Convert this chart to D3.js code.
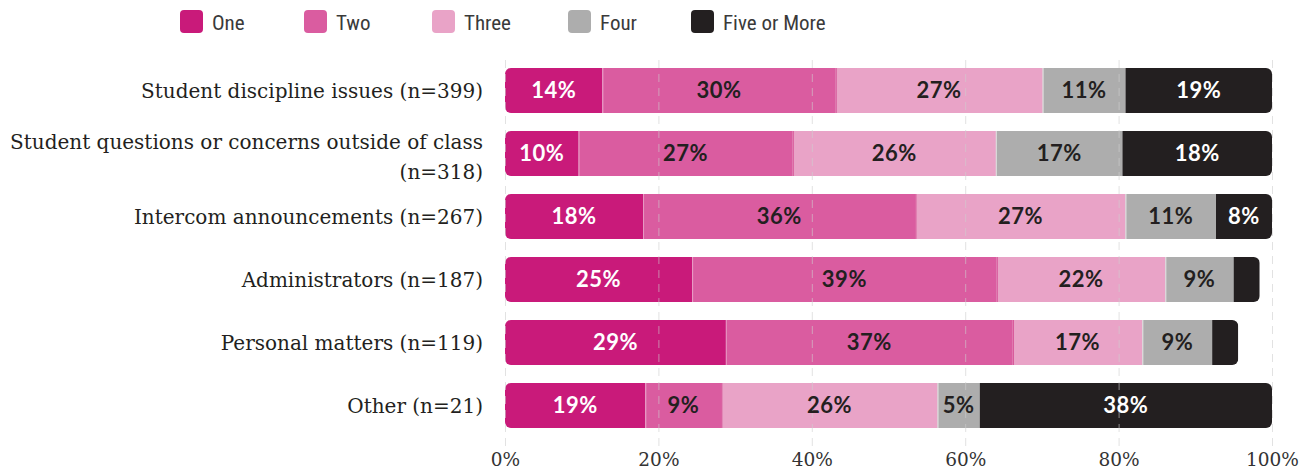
<!DOCTYPE html>
<html>
<head>
<meta charset="utf-8">
<script src="https://cdn.jsdelivr.net/npm/d3@7"></script>
<style>
  body { margin: 0; background: #fff; }
</style>
</head>
<body>
<script>
// categories (row labels, top to bottom)
const categories = [
  "Student discipline issues (n=399)",
  "Student questions or concerns outside of class (n=318)",
  "Intercom announcements (n=267)",
  "Administrators (n=187)",
  "Personal matters (n=119)",
  "Other (n=21)"
];
// two-line labels where the original wraps
const categoryLines = [
  ["Student discipline issues (n=399)"],
  ["Student questions or concerns outside of class", "(n=318)"],
  ["Intercom announcements (n=267)"],
  ["Administrators (n=187)"],
  ["Personal matters (n=119)"],
  ["Other (n=21)"]
];

// series keys + legend names
const keys = ["one", "two", "three", "four", "five"];
const legendNames = ["One", "Two", "Three", "Four", "Five or More"];

// segment widths (% of respondents)
const one   = [12.7,  9.6, 18.0, 24.4, 28.8, 18.3];
const two   = [30.4, 27.9, 35.5, 39.7, 37.4,  9.9];
const three = [27.0, 26.5, 27.4, 22.0, 16.9, 28.2];
const four  = [10.8, 16.5, 11.8,  8.9,  9.1,  5.5];
const five  = [19.1, 19.5,  7.3,  3.4,  3.4, 38.1];

// printed labels inside the segments
const oneLabels   = ["14%", "10%", "18%", "25%", "29%", "19%"];
const twoLabels   = ["30%", "27%", "36%", "39%", "37%", "9%"];
const threeLabels = ["27%", "26%", "27%", "22%", "17%", "26%"];
const fourLabels  = ["11%", "17%", "11%", "9%", "9%", "5%"];
const fiveLabels  = ["19%", "18%", "8%", "", "", "38%"];

const xTicks = [0, 20, 40, 60, 80, 100];

const values = { one, two, three, four, five };
const labels = { one: oneLabels, two: twoLabels, three: threeLabels, four: fourLabels, five: fiveLabels };

const colors = {
  one: "#c91a7a",
  two: "#da5ca0",
  three: "#e9a3c7",
  four: "#adadad",
  five: "#231f20"
};
const textColors = { one: "#fff", two: "#231f20", three: "#231f20", four: "#231f20", five: "#fff" };

// table for d3.stack
const table = categories.map((c, i) => {
  const row = { category: c, idx: i };
  keys.forEach(k => { row[k] = values[k][i]; });
  return row;
});

const width = 1310, height = 471;

const svg = d3.select("body")
  .append("svg")
  .attr("width", width)
  .attr("height", height);

const x = d3.scaleLinear().domain([0, 100]).range([505, 1272]);
const y = d3.scaleBand().domain(categories).range([59, 437]).paddingInner(0.286).paddingOuter(0.143);

const stacked = d3.stack().keys(keys)(table);

// rounded clip per row
const defs = svg.append("defs");
table.forEach(d => {
  const total = d3.sum(keys, k => d[k]);
  defs.append("clipPath")
    .attr("id", "clip" + d.idx)
    .append("rect")
    .attr("x", x(0))
    .attr("y", y(d.category))
    .attr("width", x(total) - x(0))
    .attr("height", y.bandwidth())
    .attr("rx", 6);
});

// bars
const layer = svg.append("g").selectAll("g")
  .data(stacked)
  .join("g")
  .attr("fill", s => colors[s.key]);

layer.selectAll("rect")
  .data(s => s.map(p => ({ key: s.key, p })))
  .join("rect")
  .attr("clip-path", d => `url(#clip${d.p.data.idx})`)
  .attr("x", d => x(d.p[0]))
  .attr("y", d => y(d.p.data.category))
  .attr("width", d => x(d.p[1]) - x(d.p[0]))
  .attr("height", y.bandwidth());

// thin separators between segments
const sepColors = { two: "rgba(255,255,255,0.35)", three: "#d2448f", four: "rgba(255,255,255,0.6)" };
stacked.filter(s => sepColors[s.key]).forEach(s => {
  svg.append("g").selectAll("line")
    .data(s)
    .join("line")
    .attr("x1", p => x(p[0]) + 0.5)
    .attr("x2", p => x(p[0]) + 0.5)
    .attr("y1", p => y(p.data.category))
    .attr("y2", p => y(p.data.category) + y.bandwidth())
    .attr("stroke", sepColors[s.key])
    .attr("stroke-width", 1);
});

// dashed gridlines drawn faintly over the bars
svg.append("g")
  .selectAll("line")
  .data(xTicks)
  .join("line")
  .attr("x1", d => x(d) + 0.5)
  .attr("x2", d => x(d) + 0.5)
  .attr("y1", 60)
  .attr("y2", 446)
  .attr("stroke", "#cfcfcf")
  .attr("stroke-opacity", 0.6)
  .attr("stroke-dasharray", "8,6");

// segment labels
stacked.forEach(s => {
  svg.append("g").selectAll("text")
    .data(s)
    .join("text")
    .attr("x", p => (x(p[0]) + x(p[1])) / 2)
    .attr("y", p => y(p.data.category) + y.bandwidth() / 2)
    .attr("dy", "0.36em")
    .attr("text-anchor", "middle")
    .attr("fill", textColors[s.key])
    .style("font-family", "Lato, 'Noto Sans', sans-serif")
    .style("font-weight", 700)
    .style("font-size", "22px")
    .style("letter-spacing", "0.5px")
    .text(p => labels[s.key][p.data.idx]);
});

// category labels
const catG = svg.append("g")
  .style("font-family", "'DejaVu Serif', serif")
  .style("font-size", "20px")
  .attr("fill", "#231f20");

categoryLines.forEach((lines, i) => {
  const cy = y(categories[i]) + y.bandwidth() / 2;
  const lh = 30;
  const shift = lines.length > 1 ? 3 : 0;
  const t = catG.append("text")
    .attr("text-anchor", "end")
    .attr("x", 483)
    .attr("y", cy - (lines.length - 1) * lh / 2 + shift);
  lines.forEach((ln, j) => {
    t.append("tspan")
      .attr("x", 483)
      .attr("dy", j === 0 ? "0.35em" : lh)
      .text(ln);
  });
});

// x axis labels
const xAxis = d3.axisBottom(x)
  .tickValues(xTicks)
  .tickFormat(d => d + "%")
  .tickSize(0)
  .tickPadding(0);

const ax = svg.append("g")
  .attr("transform", "translate(0,453)")
  .call(xAxis);
ax.select(".domain").remove();
ax.selectAll("text")
  .style("font-family", "'DejaVu Serif', serif")
  .style("font-size", "18.5px")
  .attr("fill", "#333");

// legend
const legendX = [180, 304, 432, 568, 691];
const legend = svg.append("g").selectAll("g")
  .data(keys)
  .join("g")
  .attr("transform", (k, i) => `translate(${legendX[i]},10)`);

legend.append("rect")
  .attr("width", 23)
  .attr("height", 23)
  .attr("rx", 4)
  .attr("fill", k => colors[k]);

legend.append("text")
  .attr("x", 32)
  .attr("y", 12)
  .attr("dy", "0.36em")
  .attr("fill", "#3a3a3a")
  .style("font-family", "'Liberation Sans Narrow', 'Roboto Condensed', 'Liberation Sans', sans-serif")
  .style("font-weight", 400)
  .style("font-size", "21px")
  .text((k, i) => legendNames[i]);
</script>
</body>
</html>
